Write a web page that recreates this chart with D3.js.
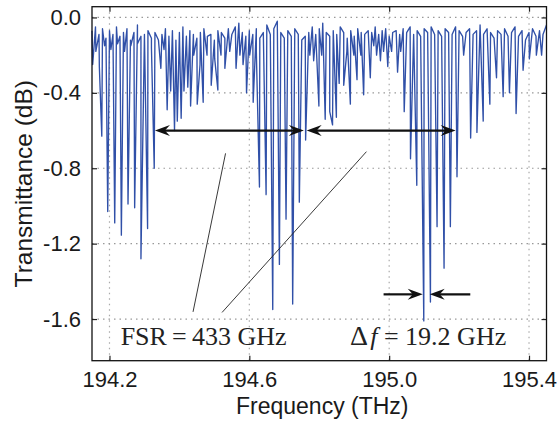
<!DOCTYPE html>
<html>
<head>
<meta charset="utf-8">
<script src="https://cdn.jsdelivr.net/npm/d3@7"></script>
<style>
  body { margin: 0; background: #fff; }
  svg { display: block; }
</style>
</head>
<body>
<div id="chart"></div>
<script>
// tick labels
var xTicks = [194.2, 194.6, 195.0, 195.4]
var yTicks = [0.0, -0.4, -0.8, -1.2, -1.6]

// baseline of the spectrum, sampled every 10 GHz from 194.15 THz
var baseStart = 194.15,
    baseStep = 0.01
var baseLevel = [
  -0.07, -0.05, -0.09, -0.06, -0.11, -0.07, -0.09, -0.05, -0.10, -0.08,
  -0.06, -0.12, -0.08, -0.04, -0.10, -0.09, -0.07, -0.11, -0.08, -0.12,
  -0.09, -0.06, -0.10, -0.07, -0.12, -0.08, -0.05, -0.10, -0.07, -0.09,
  -0.11, -0.08, -0.06, -0.10, -0.09, -0.12, -0.07, -0.08, -0.11, -0.06,
  -0.09, -0.05, -0.03, -0.08, -0.10, -0.07, -0.09, -0.06, -0.11, -0.08,
  -0.04, -0.09, -0.06, -0.02, -0.08, -0.11, -0.07, -0.10, -0.06, -0.09,
  -0.12, -0.10, -0.08, -0.05, -0.09, -0.06, -0.03, -0.08, -0.10, -0.07,
  -0.09, -0.05, -0.08, -0.11, -0.07, -0.10, -0.06, -0.08, -0.09, -0.07,
  -0.08, -0.05, -0.09, -0.07, -0.06, -0.10, -0.08, -0.07, -0.09, -0.06,
  -0.08, -0.05, -0.09, -0.07, -0.10, -0.06, -0.08, -0.05, -0.09, -0.07,
  -0.10, -0.06, -0.08, -0.09, -0.05, -0.07, -0.10, -0.08, -0.06, -0.09,
  -0.07, -0.04, -0.09, -0.06, -0.08, -0.11, -0.07, -0.09, -0.06, -0.10,
  -0.08, -0.05, -0.10, -0.07, -0.12, -0.08, -0.06, -0.10, -0.07, -0.09,
  -0.04
]

// resonance dips (THz, dB)
var dipFreq = [
  194.152, 194.161, 194.171, 194.178, 194.186, 194.195, 194.204, 194.215, 194.223, 194.234,
  194.243, 194.253, 194.261, 194.272, 194.280, 194.290, 194.301, 194.309, 194.320, 194.328,
  194.347, 194.356, 194.365, 194.375, 194.386, 194.394, 194.405, 194.413, 194.424, 194.432,
  194.441, 194.451, 194.459, 194.468, 194.479, 194.491, 194.501, 194.510, 194.519, 194.530,
  194.544, 194.562, 194.573, 194.582, 194.592, 194.601, 194.611, 194.620, 194.629, 194.648,
  194.667, 194.686, 194.705, 194.724, 194.743, 194.761, 194.773, 194.784, 194.799, 194.807,
  194.817, 194.830, 194.838, 194.849, 194.857, 194.870, 194.879, 194.889, 194.899, 194.908,
  194.919, 194.927, 194.946, 194.956, 194.964, 194.975, 194.984, 194.996, 195.007, 195.024,
  195.033, 195.043, 195.061, 195.079, 195.099, 195.118, 195.137, 195.157, 195.175, 195.194,
  195.213, 195.233, 195.251, 195.269, 195.288, 195.307, 195.326, 195.344, 195.363, 195.383,
  195.401, 195.421, 195.436
]
var dipDepth = [
  -0.25, -0.18, -0.26, -0.63, -0.15, -1.03, -0.17, -1.09, -0.14, -1.155,
  -0.18, -0.99, -0.15, -1.01, -0.14, -1.28, -0.20, -1.12, -0.16, -0.80,
  -0.27, -0.17, -0.49, -0.39, -0.60, -0.55, -0.535, -0.39, -0.37, -0.47,
  -0.20, -0.46, -0.25, -0.45, -0.20, -0.36, -0.22, -0.385, -0.20, -0.27,
  -0.18, -0.27, -0.20, -0.25, -0.40, -0.20, -0.45, -0.18, -0.90, -0.94,
  -1.55, -1.31, -1.07, -1.52, -0.98, -0.65, -0.20, -0.23, -0.47, -0.20,
  -0.54, -0.50, -0.57, -0.53, -0.35, -0.36, -0.18, -0.46, -0.20, -0.33,
  -0.20, -0.41, -0.32, -0.15, -0.20, -0.23, -0.18, -0.26, -0.18, -0.29,
  -0.18, -0.50, -0.75, -0.89, -1.61, -1.51, -1.11, -1.33, -1.11, -0.845,
  -0.20, -0.64, -0.61, -0.55, -0.46, -0.32, -0.42, -0.40, -0.51, -0.28,
  -0.22, -0.20, -0.20
]

// annotations (THz, dB)
var fsrArrows = [[194.33, 194.756], [194.764, 195.19]]
var fsrLevel = -0.6
var dfArrows = [[194.984, 195.096], [195.232, 195.116]]
var dfLevel = -1.469
var leaders = [[194.439, -1.562, 194.532, -0.721], [194.522, -1.565, 194.935, -0.712]]

var W = 559, H = 424
var pLeft = 92, pRight = 546.5, pTop = 6.7, pBottom = 360.7

var x = d3.scaleLinear().domain([194.15, 195.45]).range([pLeft, pRight])
var y = d3.scaleLinear().domain([-1.821, 0.057]).range([pBottom, pTop])

var svg = d3.select("#chart").append("svg")
    .attr("width", W)
    .attr("height", H)

// grid
svg.append("g").selectAll("line")
    .data(xTicks)
    .join("line")
    .attr("x1", d => x(d)).attr("x2", d => x(d))
    .attr("y1", pTop).attr("y2", pBottom)
    .attr("stroke", "#aaa").attr("stroke-width", 1.2)
    .attr("stroke-dasharray", "1.5,4")

svg.append("g").selectAll("line")
    .data(yTicks)
    .join("line")
    .attr("x1", pLeft).attr("x2", pRight)
    .attr("y1", d => y(d)).attr("y2", d => y(d))
    .attr("stroke", "#999").attr("stroke-width", 1.2)
    .attr("stroke-dasharray", "1.5,4")

// spectrum: baseline samples merged with dips
var pts = baseLevel.map((v, i) => ({ f: baseStart + i * baseStep, t: v }))
dipFreq.forEach((f, i) => pts.push({ f: f, t: dipDepth[i] }))
pts.sort((a, b) => a.f - b.f)

svg.append("path")
    .datum(pts)
    .attr("fill", "none")
    .attr("stroke", "#3050a8")
    .attr("stroke-width", 1.35)
    .attr("stroke-linejoin", "round")
    .attr("d", d3.line().x(d => x(d.f)).y(d => y(d.t)))

// axes
var fmt = d => d.toFixed(1)

svg.append("g")
    .attr("transform", "translate(0," + pBottom + ")")
    .call(d3.axisBottom(x).tickValues(xTicks).tickFormat(fmt).tickSizeInner(-5).tickSizeOuter(0).tickPadding(11))
svg.append("g")
    .attr("transform", "translate(" + pLeft + ",0)")
    .call(d3.axisLeft(y).tickValues(yTicks).tickFormat(fmt).tickSizeInner(-5).tickSizeOuter(0).tickPadding(11))
svg.append("g")
    .attr("transform", "translate(0," + pTop + ")")
    .call(d3.axisTop(x).tickValues(xTicks).tickFormat("").tickSizeInner(-5).tickSizeOuter(0))
svg.append("g")
    .attr("transform", "translate(" + pRight + ",0)")
    .call(d3.axisRight(y).tickValues(yTicks).tickFormat("").tickSizeInner(-5).tickSizeOuter(0))

svg.selectAll(".domain").remove()
svg.selectAll(".tick line").attr("stroke", "#222").attr("stroke-width", 1.2)
svg.selectAll(".tick text")
    .attr("font-family", "'Liberation Sans', Arial, sans-serif")
    .attr("font-size", 22)
    .attr("fill", "#1a1a1a")

svg.append("rect")
    .attr("x", pLeft).attr("y", pTop)
    .attr("width", pRight - pLeft).attr("height", pBottom - pTop)
    .attr("fill", "none").attr("stroke", "#111").attr("stroke-width", 1.3)

svg.append("text")
    .attr("x", (pLeft + pRight) / 2 + 3)
    .attr("y", 414)
    .attr("text-anchor", "middle")
    .attr("font-family", "'Liberation Sans', Arial, sans-serif")
    .attr("font-size", 23)
    .attr("fill", "#1a1a1a")
    .text("Frequency (THz)")

svg.append("text")
    .attr("transform", "translate(32," + (pTop + pBottom) / 2 + ") rotate(-90)")
    .attr("text-anchor", "middle")
    .attr("font-family", "'Liberation Sans', Arial, sans-serif")
    .attr("font-size", 24.5)
    .attr("fill", "#1a1a1a")
    .text("Transmittance (dB)")

// arrows
function arrowHead(g, tipX, tipY, dir) {
    var L = 15, hw = 5.5, back = 10
    g.append("path")
        .attr("d", "M" + tipX + "," + tipY +
            "L" + (tipX - dir * L) + "," + (tipY - hw) +
            "L" + (tipX - dir * back) + "," + tipY +
            "L" + (tipX - dir * L) + "," + (tipY + hw) + "Z")
        .attr("fill", "#111")
}

var ga = svg.append("g")
fsrArrows.forEach(function(a) {
    var x1 = x(a[0]), x2 = x(a[1]), yy = y(fsrLevel)
    ga.append("line")
        .attr("x1", x1 + 8).attr("x2", x2 - 8)
        .attr("y1", yy).attr("y2", yy)
        .attr("stroke", "#111").attr("stroke-width", 2.2)
    arrowHead(ga, x1, yy, -1)
    arrowHead(ga, x2, yy, 1)
})

dfArrows.forEach(function(a) {
    var x1 = x(a[0]), x2 = x(a[1]), yy = y(dfLevel)
    var dir = x2 > x1 ? 1 : -1
    ga.append("line")
        .attr("x1", x1).attr("x2", x2 - dir * 8)
        .attr("y1", yy).attr("y2", yy)
        .attr("stroke", "#111").attr("stroke-width", 2.2)
    arrowHead(ga, x2, yy, dir)
})

ga.selectAll(".leader")
    .data(leaders)
    .join("line")
    .attr("class", "leader")
    .attr("x1", d => x(d[0])).attr("y1", d => y(d[1]))
    .attr("x2", d => x(d[2])).attr("y2", d => y(d[3]))
    .attr("stroke", "#222").attr("stroke-width", 0.9)

// labels
var serif = "'Liberation Serif', 'Times New Roman', serif"
svg.append("text")
    .attr("x", x(194.232)).attr("y", y(-1.738))
    .attr("font-family", serif).attr("font-size", 26).attr("fill", "#222")
    .text("FSR\u2009=\u2009433 GHz")

var t2 = svg.append("text")
    .attr("x", x(194.888)).attr("y", y(-1.738))
    .attr("font-family", serif).attr("font-size", 26).attr("fill", "#222")
t2.append("tspan").attr("font-size", 28).text("\u0394")
t2.append("tspan").attr("font-style", "italic").text("\u200af")
t2.append("tspan").text(" = 19.2 GHz")
</script>
</body>
</html>
